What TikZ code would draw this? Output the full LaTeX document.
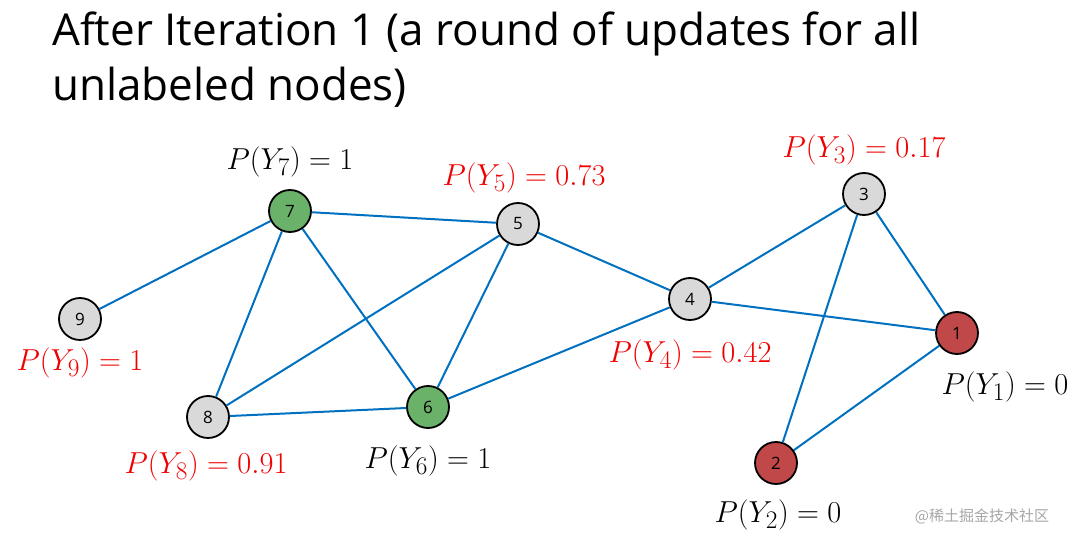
\documentclass[tikz,border=0pt]{standalone}
\usepackage{fontspec}
\usepackage{graphicx}
\setmainfont{Open Sans}
\newfontfamily\cjk{Noto Sans CJK SC}
\definecolor{edge}{RGB}{0,112,192}
\definecolor{gn}{RGB}{106,178,106}
\definecolor{rd}{RGB}{192,72,72}
\definecolor{gy}{RGB}{217,217,217}
\definecolor{lr}{RGB}{240,0,0}
\newcommand{\pl}[1]{\scalebox{1.22}{$#1$}}
\begin{document}
\begin{tikzpicture}[x=1pt,y=-1pt,
  nd/.style={circle,draw=black,line width=1.8pt,minimum size=42pt,inner sep=0pt,font=\fontsize{17}{19}\selectfont},
  g/.style={nd,fill=gy}, gr/.style={nd,fill=gn}, r/.style={nd,fill=rd},
  e/.style={edge,line width=2pt},
  lb/.style={font=\fontsize{24.88}{30}\selectfont},
  red/.style={lb,text=lr}]
\useasboundingbox (0,0) rectangle (1080,543);
\node[anchor=base west,font=\fontsize{44}{50}\selectfont,inner sep=0] (t1) at (52,46) {After Iteration 1 (a round of updates for all};
\node[anchor=base west,font=\fontsize{44}{50}\selectfont,inner sep=0] (t2) at (52,101) {unlabeled nodes)};
\node[gr] (n7) at (290,211) {7};
\node[g] (n5) at (518,224) {5};
\node[g] (n9) at (80,319) {9};
\node[g] (n8) at (208,417) {8};
\node[gr] (n6) at (428,407) {6};
\node[g] (n4) at (690,299) {4};
\node[g] (n3) at (864,194) {3};
\node[r] (n1) at (957,333) {1};
\node[r] (n2) at (776,463) {2};
\foreach \a/\b in {7/5,7/9,7/8,7/6,5/8,5/6,5/4,8/6,6/4,4/3,4/1,3/1,3/2,2/1}
  \draw[e] (n\a) -- (n\b);
\node[lb] (l7) at (290,162) {\pl{P(Y_7)=1}};
\node[red] (l5) at (524,178) {\pl{P(Y_5)=0.73}};
\node[red] (l3) at (864,150) {\pl{P(Y_3)=0.17}};
\node[red] (l9) at (80,363) {\pl{P(Y_9)=1}};
\node[red] (l4) at (690,355) {\pl{P(Y_4)=0.42}};
\node[lb] (l1) at (1005,387) {\pl{P(Y_1)=0}};
\node[red] (l8) at (206,466) {\pl{P(Y_8)=0.91}};
\node[lb] (l6) at (428,461) {\pl{P(Y_6)=1}};
\node[lb] (l2) at (778,515) {\pl{P(Y_2)=0}};
\node[text=gray!70,font=\cjk\fontsize{15}{17}\selectfont] (wm) at (982,516) {@稀土掘金技术社区};
\end{tikzpicture}
\end{document}
